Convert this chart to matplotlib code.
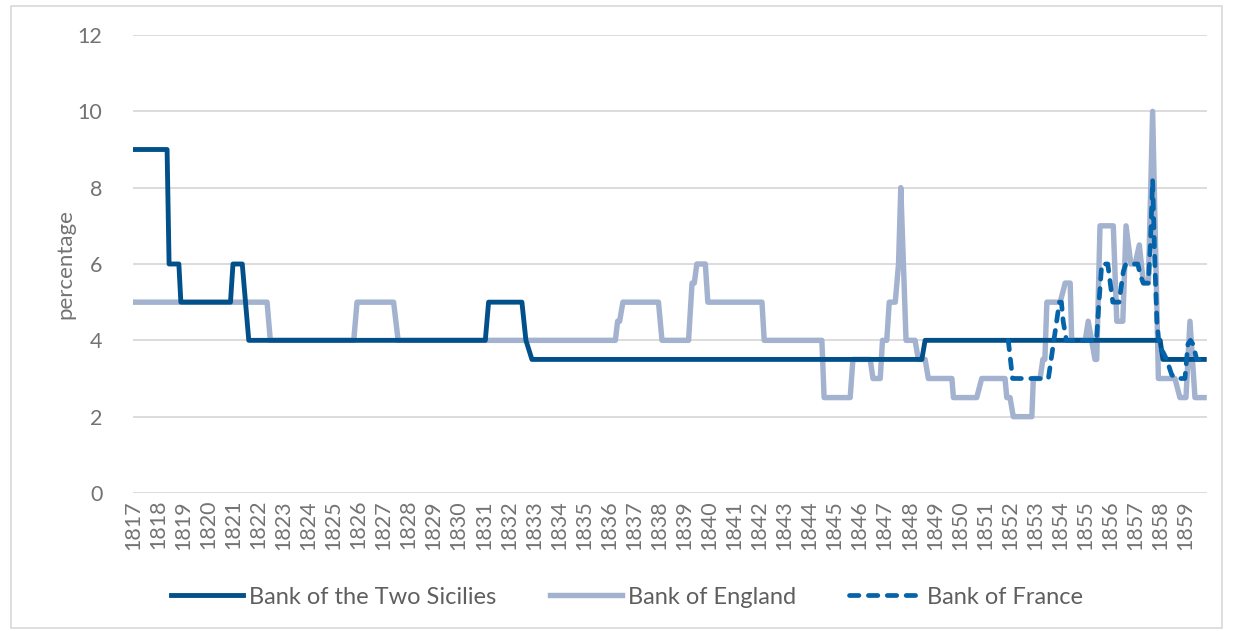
import matplotlib
matplotlib.use('Agg')
import matplotlib.pyplot as plt
from matplotlib.lines import Line2D
from matplotlib.patches import Rectangle

# ---------------- data (decimal years, percentage) ----------------
sicilies_t = [1817.0, 1818.36, 1818.44, 1818.83, 1818.91, 1820.89, 1820.99, 1821.36,
              1821.49, 1821.62, 1831.06, 1831.19, 1832.52, 1832.68, 1832.92, 1848.48,
              1848.61, 1857.99, 1858.10, 1859.85]
sicilies_v = [9, 9, 6, 6, 5, 5, 6, 6, 5, 4, 4, 5, 5, 4, 3.5, 3.5, 4, 4, 3.5, 3.5]

england_t = [1817.0, 1822.35, 1822.48, 1825.81, 1825.94, 1827.40, 1827.58, 1836.25,
             1836.34, 1836.42, 1836.55, 1837.97, 1838.11, 1839.17, 1839.31, 1839.40,
             1839.50, 1839.84, 1839.94, 1842.10, 1842.19, 1844.49, 1844.58, 1845.62,
             1845.73, 1846.42, 1846.53, 1846.82, 1846.91, 1847.08, 1847.18, 1847.42,
             1847.55, 1847.64, 1847.85, 1848.21, 1848.34, 1848.61, 1848.74, 1849.68,
             1849.74, 1850.67, 1850.87, 1851.80, 1851.87, 1852.00, 1852.13, 1852.87,
             1852.93, 1853.20, 1853.31, 1853.39, 1853.47, 1854.00, 1854.20, 1854.40,
             1854.46, 1855.00, 1855.12, 1855.39, 1855.46, 1855.59, 1856.12, 1856.26,
             1856.50, 1856.63, 1856.82, 1856.99, 1857.16, 1857.32, 1857.52, 1857.69,
             1857.92, 1858.58, 1858.78, 1859.02, 1859.18, 1859.38, 1859.85]
england_v = [5, 5, 4, 4, 5, 5, 4, 4,
             4.5, 4.5, 5, 5, 4, 4, 5.5, 5.5,
             6, 6, 5, 5, 4, 4, 2.5, 2.5,
             3.5, 3.5, 3, 3, 4, 4, 5, 5,
             6, 8, 4, 4, 3.5, 3.5, 3, 3,
             2.5, 2.5, 3, 3, 2.5, 2.5, 2, 2,
             3, 3, 3.5, 3.5, 5, 5, 5.5, 5.5,
             4, 4, 4.5, 3.5, 3.5, 7, 7, 4.5,
             4.5, 7, 6, 6, 6.5, 5.5, 5.5, 10,
             3, 3, 2.5, 2.5, 4.5, 2.5, 2.5]

france_t = [1851.93, 1852.10, 1853.53, 1853.75, 1853.97, 1854.05, 1854.12, 1854.25,
            1855.45, 1855.55, 1855.66, 1855.90, 1856.00, 1856.10, 1856.35, 1856.52,
            1856.62, 1857.10, 1857.20, 1857.32, 1857.52, 1857.60, 1857.69, 1857.78,
            1857.86, 1857.96, 1858.10, 1858.25, 1858.45, 1858.62, 1858.98, 1859.10,
            1859.20, 1859.30, 1859.45, 1859.85]
france_v = [4, 3, 3, 4, 5, 5, 4.5, 4,
            4, 5, 6, 6, 5.5, 5, 5, 5.8,
            6, 6, 5.7, 5.5, 5.5, 6.5, 8.2, 6,
            4.5, 3.8, 3.7, 3.5, 3.1, 3, 3, 3.9,
            4, 3.9, 3.5, 3.5]

year_ticks = list(range(1817, 1860))
y_ticks = [0, 2, 4, 6, 8, 10, 12]
labels = ['Bank of the Two Sicilies', 'Bank of England', 'Bank of France']

# ---------------- styling ----------------
C_SIC = '#02508a'
C_ENG = '#a3b2cf'
C_FRA = '#0563a9'
TXT = '#5f5f5f'
TICK = '#737373'
GRID = '#d9d9d9'

plt.rcParams['font.family'] = ['Lato', 'DejaVu Sans']

W, H = 1233, 631
fig = plt.figure(figsize=(W / 100, H / 100), dpi=100)
ax = fig.add_axes([133 / W, 1 - 493 / H, (1207 - 133) / W, (493 - 35) / H])

ax.plot(sicilies_t, sicilies_v, color=C_SIC, lw=3.5, solid_joinstyle='round',
        solid_capstyle='butt', zorder=3)
ax.plot(england_t, england_v, color=C_ENG, lw=3.9, solid_joinstyle='round',
        solid_capstyle='butt', zorder=2)
ax.plot(france_t, france_v, color=C_FRA, lw=3.4, dashes=(2.0, 2.0),
        dash_capstyle='round', dash_joinstyle='round', zorder=4)

ax.set_xlim(1817, 1859.86)
ax.set_ylim(0, 12)
ax.set_yticks(y_ticks)
ax.set_xticks(year_ticks)
ax.set_xticklabels([str(y) for y in year_ticks], rotation=90)
ax.grid(axis='y', color=GRID, lw=1.3, zorder=0)
ax.grid(axis='x', visible=False)
ax.set_axisbelow(True)
for s in ax.spines.values():
    s.set_visible(False)
ax.tick_params(axis='both', length=0, colors=TICK, labelsize=15.5)
ax.tick_params(axis='y', pad=22)
ax.tick_params(axis='x', pad=5)

fig.text(65 / W, 1 - 264 / H, 'percentage', rotation=90, ha='center', va='center',
         color=TICK, fontsize=16)

handles = [Line2D([], [], color=C_SIC, lw=3.5),
           Line2D([], [], color=C_ENG, lw=3.9),
           Line2D([], [], color=C_FRA, lw=3.4, dashes=(2.0, 2.0), dash_capstyle='round')]
leg = fig.legend(handles, labels, loc='center', bbox_to_anchor=(627 / W, 1 - 597 / H),
                 ncol=3, frameon=False, handlelength=3.05, columnspacing=2.25,
                 handletextpad=0.25, fontsize=17)
for t in leg.get_texts():
    t.set_color(TXT)

fig.patches.append(Rectangle((11 / W, 1 - 628 / H), (1222 - 11) / W, (628 - 6) / H,
                             transform=fig.transFigure, fill=False,
                             edgecolor=GRID, lw=1.2))

fig.savefig('out.png', dpi=100, facecolor='white')
